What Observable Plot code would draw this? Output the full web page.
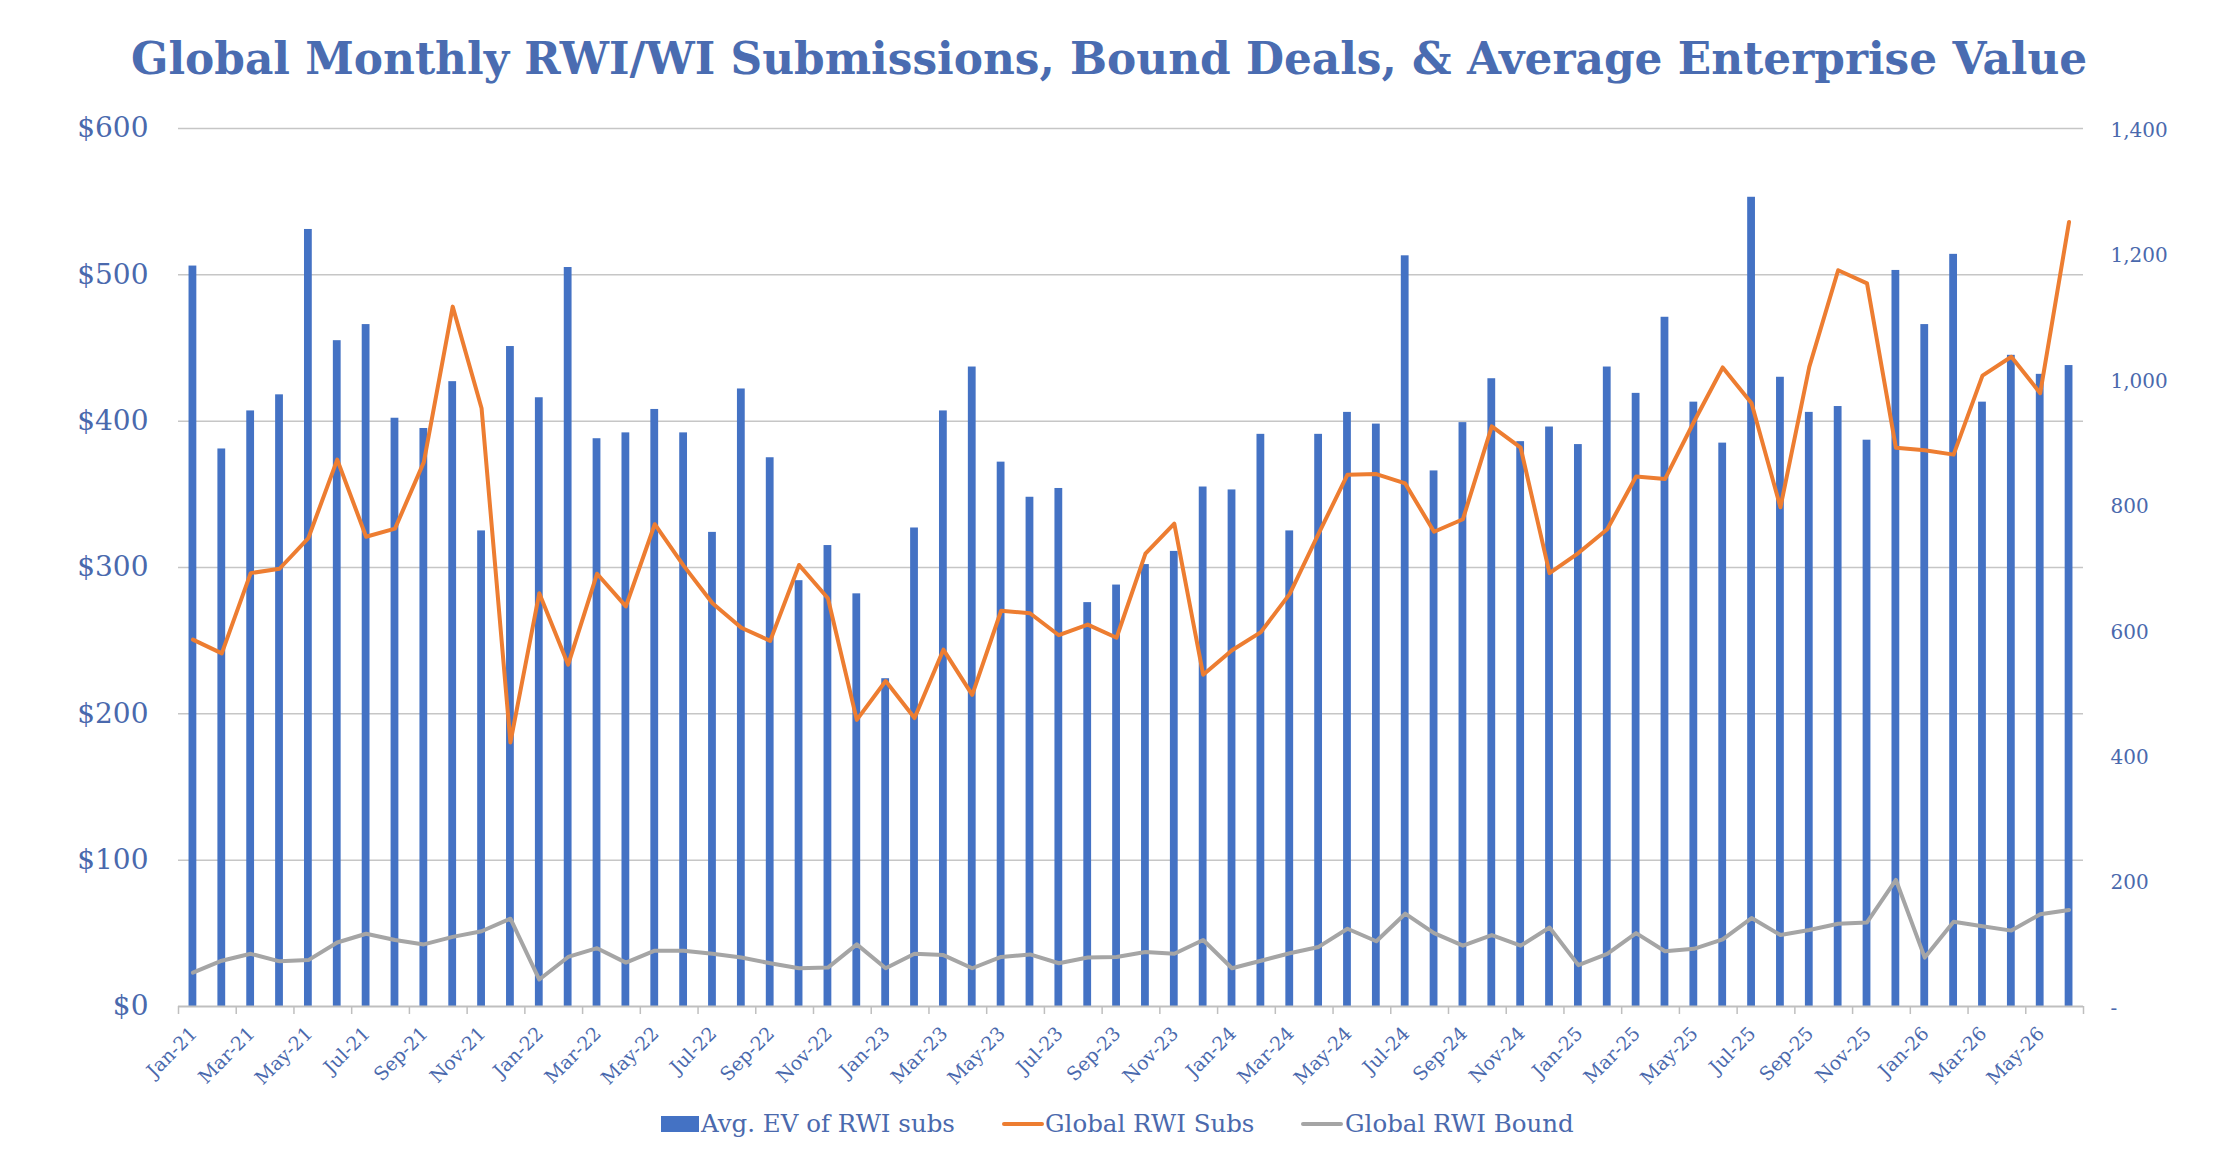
<!DOCTYPE html>
<html>
<head>
<meta charset="utf-8">
<script src="https://cdn.jsdelivr.net/npm/d3@7"></script>
<script src="https://cdn.jsdelivr.net/npm/@observablehq/plot@0.6"></script>
<style>
  html, body { margin: 0; padding: 0; background: #ffffff; }
  #page { position: relative; width: 2232px; height: 1159px; overflow: hidden; background: #fff; }
  #title { position: absolute; white-space: nowrap; font-family: "DejaVu Serif", serif; font-weight: bold; color: #4A6CB1; line-height: 1; }
  #chart { position: absolute; left: 0; top: 100px; }
  .lg-sw { position: absolute; }
  .lg-tx { position: absolute; white-space: nowrap; font-family: "DejaVu Serif", serif; color: #4A69AD; line-height: 1; }
</style>
</head>
<body>
<div id="page">
  <div id="title">Global Monthly RWI/WI Submissions, Bound Deals, &amp; Average Enterprise Value</div>
  <div id="chart"></div>
  <div id="legend"></div>
</div>
<script>
// ---------------- DATA ----------------
const months = [
  "Jan-21","Feb-21","Mar-21","Apr-21","May-21","Jun-21","Jul-21","Aug-21","Sep-21","Oct-21","Nov-21","Dec-21",
  "Jan-22","Feb-22","Mar-22","Apr-22","May-22","Jun-22","Jul-22","Aug-22","Sep-22","Oct-22","Nov-22","Dec-22",
  "Jan-23","Feb-23","Mar-23","Apr-23","May-23","Jun-23","Jul-23","Aug-23","Sep-23","Oct-23","Nov-23","Dec-23",
  "Jan-24","Feb-24","Mar-24","Apr-24","May-24","Jun-24","Jul-24","Aug-24","Sep-24","Oct-24","Nov-24","Dec-24",
  "Jan-25","Feb-25","Mar-25","Apr-25","May-25","Jun-25","Jul-25","Aug-25","Sep-25","Oct-25","Nov-25","Dec-25",
  "Jan-26","Feb-26","Mar-26","Apr-26","May-26","Jun-26"
];
// Avg. EV of RWI subs ($, left axis)
const evValues = [
  506, 381, 407, 418, 531, 455, 466, 402, 395, 427, 325, 451,
  416, 505, 388, 392, 408, 392, 324, 422, 375, 291, 315, 282,
  224, 327, 407, 437, 372, 348, 354, 276, 288, 302, 311, 355,
  353, 391, 325, 391, 406, 398, 513, 366, 399, 429, 386, 396,
  384, 437, 419, 471, 413, 385, 553, 430, 406, 410, 387, 503,
  466, 514, 413, 445, 432, 438
];
// Global RWI Subs (count, right axis)
const subsValues = [
  585, 563, 691, 698, 747, 872, 749, 762, 868, 1116, 954, 421,
  659, 545, 690, 638, 769, 703, 643, 604, 583, 704, 651, 457,
  519, 460, 569, 497, 631, 627, 592, 609, 588, 722, 770, 529,
  568, 597, 658, 754, 848, 849, 834, 757, 777, 925, 891, 691,
  723, 761, 845, 841, 932, 1019, 962, 796, 1020, 1174, 1153, 891,
  887, 880, 1006, 1036, 978, 1251
];
// Global RWI Bound (count, right axis)
const boundValues = [
  54, 73, 84, 72, 74, 102, 116, 106, 99, 111, 120, 140,
  43, 79, 93, 70, 89, 89, 84, 78, 69, 61, 62, 99,
  61, 84, 82, 61, 79, 83, 69, 78, 79, 87, 84, 106,
  61, 73, 85, 95, 124, 104, 148, 117, 97, 114, 97, 126,
  66, 84, 117, 88, 92, 107, 141, 114, 122, 132, 134, 202,
  78, 135, 128, 121, 147, 154
];
const leftTicks = [0, 100, 200, 300, 400, 500, 600];
const rightTicks = [0, 200, 400, 600, 800, 1000, 1200, 1400];
const xTickLabels = months.filter((d, i) => i % 2 === 0);
const seriesNames = ["Avg. EV of RWI subs", "Global RWI Subs", "Global RWI Bound"];
const titleText = "Global Monthly RWI/WI Submissions, Bound Deals, & Average Enterprise Value";

// ---------------- STYLE / LAYOUT ----------------
const C_BAR = "#4472C4", C_SUBS = "#ED7D31", C_BOUND = "#A5A5A5";
const C_TEXT = "#4A69AD", C_GRID = "#C6C6C6";
const W = 2232, ML = 178, MR = 149, MT = 28, MB = 80;
const H = 878 + MT + MB;
const leftMax = 600, rightMax = 1400, k = leftMax / rightMax;
const step = (W - ML - MR) / months.length;
const tickLen = 8 * leftMax / 878;

const data = months.map((m, i) => ({month: m, ev: evValues[i], subs: subsValues[i] * k, bound: boundValues[i] * k}));

const chart = Plot.plot({
  width: W,
  height: H,
  marginLeft: ML,
  marginRight: MR,
  marginTop: MT,
  marginBottom: MB,
  style: {fontFamily: "DejaVu Serif", background: "transparent", overflow: "visible"},
  x: {type: "band", domain: months, paddingInner: 0.73, paddingOuter: 0.365, axis: null},
  y: {domain: [0, leftMax], axis: null},
  marks: [
    Plot.ruleY(leftTicks.filter(d => d > 0), {y: d => d, stroke: C_GRID, strokeWidth: 1.5}),
    Plot.barY(data, {x: "month", y: "ev", fill: C_BAR}),
    Plot.line(data, {x: "month", y: "bound", stroke: C_BOUND, strokeWidth: 4, strokeLinejoin: "round", strokeLinecap: "round"}),
    Plot.line(data, {x: "month", y: "subs", stroke: C_SUBS, strokeWidth: 4, strokeLinejoin: "round", strokeLinecap: "round"}),
    Plot.ruleY([0], {y: d => d, stroke: "#BFBFBF", strokeWidth: 2}),
    Plot.ruleX(xTickLabels, {x: d => d, y1: 0, y2: -tickLen, dx: -step / 2, stroke: "#BFBFBF", strokeWidth: 1.5}),
    Plot.ruleX([months[months.length - 1]], {x: d => d, y1: 0, y2: -tickLen, dx: step / 2, stroke: "#BFBFBF", strokeWidth: 1.5}),
    Plot.text(leftTicks, {y: d => d, text: d => "$" + d, frameAnchor: "left", textAnchor: "end", dx: -30, fontSize: 28, fill: C_TEXT}),
    Plot.text(rightTicks, {y: d => d * k, text: d => d === 0 ? "-" : d3.format(",")(d), frameAnchor: "right", textAnchor: "start", dx: 27, dy: 2, fontSize: 20, fill: C_TEXT}),
    Plot.text(xTickLabels, {x: d => d, y: 0, text: d => d, rotate: -45, textAnchor: "end", dy: 24, dx: 1, fontSize: 19, fill: C_TEXT})
  ]
});
document.getElementById("chart").appendChild(chart);

// ---------------- TITLE ----------------
const cv = document.createElement("canvas").getContext("2d");
function fitSize(text, weight, target) {
  cv.font = `${weight} 100px "DejaVu Serif"`;
  return 100 * target / cv.measureText(text).width;
}
const title = document.getElementById("title");
const tSize = fitSize(titleText, "bold", 1957);
title.style.fontSize = tSize + "px";
title.style.left = "131px";
title.style.top = (74 - 0.846 * tSize) + "px";

// ---------------- LEGEND ----------------
const legend = document.getElementById("legend");
const lSize = fitSize(seriesNames[0], "normal", 254);
const cy = 1124;
const items = [
  {name: seriesNames[0], color: C_BAR, sx: 661, sw: 38, sh: 16, radius: 0, tx: 701},
  {name: seriesNames[1], color: C_SUBS, sx: 1002, sw: 42, sh: 4, radius: 2, tx: 1045},
  {name: seriesNames[2], color: C_BOUND, sx: 1301, sw: 42, sh: 4, radius: 2, tx: 1345}
];
for (const it of items) {
  const sw = document.createElement("div");
  sw.className = "lg-sw";
  Object.assign(sw.style, {left: it.sx + "px", top: (cy - it.sh / 2) + "px", width: it.sw + "px", height: it.sh + "px", background: it.color, borderRadius: it.radius + "px"});
  legend.appendChild(sw);
  const tx = document.createElement("div");
  tx.className = "lg-tx";
  tx.textContent = it.name;
  Object.assign(tx.style, {left: it.tx + "px", top: (cy - lSize / 2) + "px", fontSize: lSize + "px"});
  legend.appendChild(tx);
}
</script>
</body>
</html>
